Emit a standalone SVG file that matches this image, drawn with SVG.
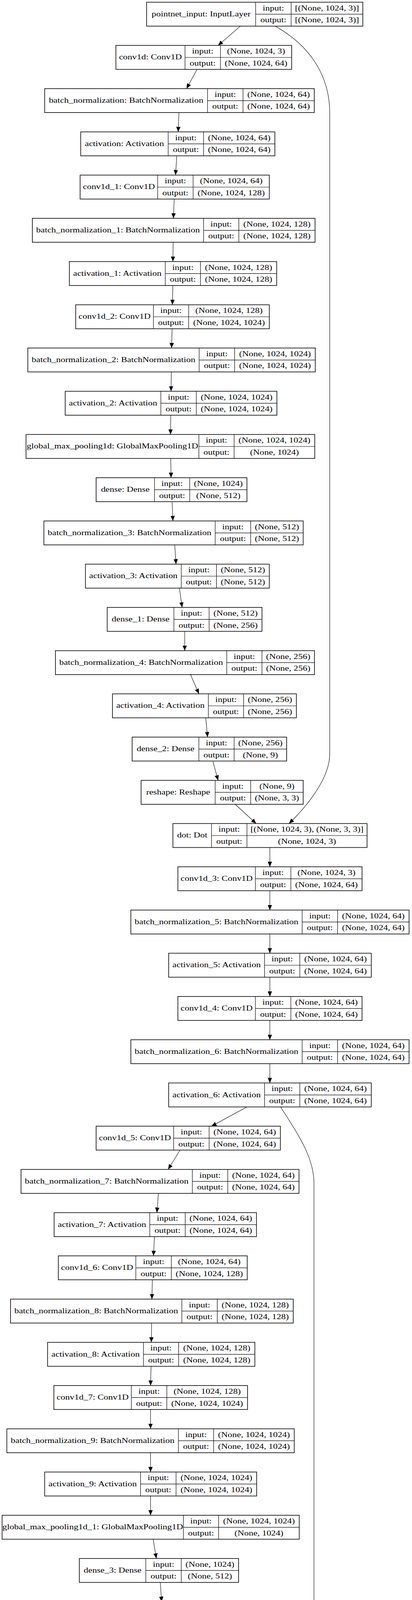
<svg xmlns="http://www.w3.org/2000/svg" width="1055" height="7045" viewBox="0 0 1055 7045">
<style>
.b{fill:#fff;stroke:#000;stroke-width:1.6}
.l{fill:none;stroke:#000;stroke-width:1.2}
.e{fill:none;stroke:#000;stroke-width:1.1}
text{font-family:"Liberation Serif","Times New Roman",serif;font-size:23.5px;text-anchor:middle;fill:#000;transform-box:fill-box;transform-origin:center;transform:scaleY(0.82)}
</style>
<defs>
<marker id="ah" viewBox="0 0 13 11" refX="13" refY="5.5" markerWidth="13" markerHeight="11" markerUnits="userSpaceOnUse" orient="auto"><path d="M0 0L13 5.5L0 11z" fill="#000"/></marker>
</defs>
<rect width="1055" height="7045" fill="#fff"/>
<g id="nodes">
<g id="pointnet_input" transform="translate(0,5.6)"><rect class="b" x="375.4" width="553.7" height="61.3"/><path class="l" d="M654.6 0V61.3M745.5 0V61.3M654.6 30.7H929.1"/><text x="515" y="37.5">pointnet_input: InputLayer</text><text x="700.1" y="22.3">input:</text><text x="700.1" y="52.9">output:</text><text x="837.3" y="22.3">[(None, 1024, 3)]</text><text x="837.3" y="52.9">[(None, 1024, 3)]</text></g>
<g id="conv1d" transform="translate(0,116.3)"><rect class="b" x="296.7" width="450.1" height="61.3"/><path class="l" d="M473.7 0V61.3M564.5 0V61.3M473.7 30.7H746.8"/><text x="385.2" y="37.5">conv1d: Conv1D</text><text x="519.1" y="22.3">input:</text><text x="519.1" y="52.9">output:</text><text x="655.7" y="22.3">(None, 1024, 3)</text><text x="655.7" y="52.9">(None, 1024, 64)</text></g>
<g id="batch_normalization" transform="translate(0,226.9)"><rect class="b" x="114.4" width="690.3" height="61.3"/><path class="l" d="M531.5 0V61.3M622.3 0V61.3M531.5 30.7H804.7"/><text x="323" y="37.5">batch_normalization: BatchNormalization</text><text x="576.9" y="22.3">input:</text><text x="576.9" y="52.9">output:</text><text x="713.5" y="22.3">(None, 1024, 64)</text><text x="713.5" y="52.9">(None, 1024, 64)</text></g>
<g id="activation" transform="translate(0,337.6)"><rect class="b" x="206.6" width="497.2" height="61.3"/><path class="l" d="M430.6 0V61.3M521.4 0V61.3M430.6 30.7H703.8"/><text x="318.6" y="37.5">activation: Activation</text><text x="476" y="22.3">input:</text><text x="476" y="52.9">output:</text><text x="612.6" y="22.3">(None, 1024, 64)</text><text x="612.6" y="52.9">(None, 1024, 64)</text></g>
<g id="conv1d_1" transform="translate(0,448.3)"><rect class="b" x="205.2" width="484.4" height="61.3"/><path class="l" d="M403.7 0V61.3M494.5 0V61.3M403.7 30.7H689.6"/><text x="304.5" y="37.5">conv1d_1: Conv1D</text><text x="449.1" y="22.3">input:</text><text x="449.1" y="52.9">output:</text><text x="592.1" y="22.3">(None, 1024, 64)</text><text x="592.1" y="52.9">(None, 1024, 128)</text></g>
<g id="batch_normalization_1" transform="translate(0,558.9)"><rect class="b" x="82.8" width="723.9" height="61.3"/><path class="l" d="M521.4 0V61.3M611.6 0V61.3M521.4 30.7H806.7"/><text x="302.1" y="37.5">batch_normalization_1: BatchNormalization</text><text x="566.5" y="22.3">input:</text><text x="566.5" y="52.9">output:</text><text x="709.2" y="22.3">(None, 1024, 128)</text><text x="709.2" y="52.9">(None, 1024, 128)</text></g>
<g id="activation_1" transform="translate(0,669.6)"><rect class="b" x="177.6" width="530.9" height="61.3"/><path class="l" d="M423.2 0V61.3M513.3 0V61.3M423.2 30.7H708.5"/><text x="300.4" y="37.5">activation_1: Activation</text><text x="468.3" y="22.3">input:</text><text x="468.3" y="52.9">output:</text><text x="610.9" y="22.3">(None, 1024, 128)</text><text x="610.9" y="52.9">(None, 1024, 128)</text></g>
<g id="conv1d_2" transform="translate(0,780.3)"><rect class="b" x="193.8" width="495.8" height="61.3"/><path class="l" d="M392.9 0V61.3M483.1 0V61.3M392.9 30.7H689.6"/><text x="293.4" y="37.5">conv1d_2: Conv1D</text><text x="438" y="22.3">input:</text><text x="438" y="52.9">output:</text><text x="586.4" y="22.3">(None, 1024, 128)</text><text x="586.4" y="52.9">(None, 1024, 1024)</text></g>
<g id="batch_normalization_2" transform="translate(0,890.9)"><rect class="b" x="71.3" width="736.1" height="61.3"/><path class="l" d="M510 0V61.3M600.8 0V61.3M510 30.7H807.4"/><text x="290.7" y="37.5">batch_normalization_2: BatchNormalization</text><text x="555.4" y="22.3">input:</text><text x="555.4" y="52.9">output:</text><text x="704.1" y="22.3">(None, 1024, 1024)</text><text x="704.1" y="52.9">(None, 1024, 1024)</text></g>
<g id="activation_2" transform="translate(0,1001.6)"><rect class="b" x="166.9" width="542.2" height="61.3"/><path class="l" d="M411.8 0V61.3M502.6 0V61.3M411.8 30.7H709.1"/><text x="289.4" y="37.5">activation_2: Activation</text><text x="457.2" y="22.3">input:</text><text x="457.2" y="52.9">output:</text><text x="605.9" y="22.3">(None, 1024, 1024)</text><text x="605.9" y="52.9">(None, 1024, 1024)</text></g>
<g id="global_max_pooling1d" transform="translate(0,1112.3)"><rect class="b" x="66.6" width="739.4" height="61.3"/><path class="l" d="M509.3 0V61.3M599.5 0V61.3M509.3 30.7H806"/><text x="288" y="37.5">global_max_pooling1d: GlobalMaxPooling1D</text><text x="554.4" y="22.3">input:</text><text x="554.4" y="52.9">output:</text><text x="702.8" y="22.3">(None, 1024, 1024)</text><text x="702.8" y="52.9">(None, 1024)</text></g>
<g id="dense" transform="translate(0,1223)"><rect class="b" x="246.2" width="386.2" height="61.3"/><path class="l" d="M395.6 0V61.3M485.8 0V61.3M395.6 30.7H632.4"/><text x="320.9" y="37.5">dense: Dense</text><text x="440.7" y="22.3">input:</text><text x="440.7" y="52.9">output:</text><text x="559.1" y="22.3">(None, 1024)</text><text x="559.1" y="52.9">(None, 512)</text></g>
<g id="batch_normalization_3" transform="translate(0,1333.6)"><rect class="b" x="112.4" width="664" height="61.3"/><path class="l" d="M551 0V61.3M641.9 0V61.3M551 30.7H776.4"/><text x="331.7" y="37.5">batch_normalization_3: BatchNormalization</text><text x="596.5" y="22.3">input:</text><text x="596.5" y="52.9">output:</text><text x="709.2" y="22.3">(None, 512)</text><text x="709.2" y="52.9">(None, 512)</text></g>
<g id="activation_3" transform="translate(0,1444.3)"><rect class="b" x="218.7" width="470.9" height="61.3"/><path class="l" d="M464.2 0V61.3M554.4 0V61.3M464.2 30.7H689.6"/><text x="341.5" y="37.5">activation_3: Activation</text><text x="509.3" y="22.3">input:</text><text x="509.3" y="52.9">output:</text><text x="622" y="22.3">(None, 512)</text><text x="622" y="52.9">(None, 512)</text></g>
<g id="dense_1" transform="translate(0,1555)"><rect class="b" x="274.5" width="396.3" height="61.3"/><path class="l" d="M445.4 0V61.3M535.5 0V61.3M445.4 30.7H670.8"/><text x="360" y="37.5">dense_1: Dense</text><text x="490.5" y="22.3">input:</text><text x="490.5" y="52.9">output:</text><text x="603.2" y="22.3">(None, 512)</text><text x="603.2" y="52.9">(None, 256)</text></g>
<g id="batch_normalization_4" transform="translate(0,1665.7)"><rect class="b" x="142" width="663.3" height="61.3"/><path class="l" d="M580.6 0V61.3M670.8 0V61.3M580.6 30.7H805.3"/><text x="361.3" y="37.5">batch_normalization_4: BatchNormalization</text><text x="625.7" y="22.3">input:</text><text x="625.7" y="52.9">output:</text><text x="738.1" y="22.3">(None, 256)</text><text x="738.1" y="52.9">(None, 256)</text></g>
<g id="activation_4" transform="translate(0,1776.3)"><rect class="b" x="288" width="470.9" height="61.3"/><path class="l" d="M533.5 0V61.3M623.7 0V61.3M533.5 30.7H758.9"/><text x="410.8" y="37.5">activation_4: Activation</text><text x="578.6" y="22.3">input:</text><text x="578.6" y="52.9">output:</text><text x="691.3" y="22.3">(None, 256)</text><text x="691.3" y="52.9">(None, 256)</text></g>
<g id="dense_2" transform="translate(0,1887)"><rect class="b" x="338.4" width="395.6" height="61.3"/><path class="l" d="M509.3 0V61.3M599.5 0V61.3M509.3 30.7H734"/><text x="423.9" y="37.5">dense_2: Dense</text><text x="554.4" y="22.3">input:</text><text x="554.4" y="52.9">output:</text><text x="666.8" y="22.3">(None, 256)</text><text x="666.8" y="52.9">(None, 9)</text></g>
<g id="reshape" transform="translate(0,1997.7)"><rect class="b" x="361.3" width="415.1" height="61.3"/><path class="l" d="M551 0V61.3M641.9 0V61.3M551 30.7H776.4"/><text x="456.2" y="37.5">reshape: Reshape</text><text x="596.5" y="22.3">input:</text><text x="596.5" y="52.9">output:</text><text x="709.2" y="22.3">(None, 9)</text><text x="709.2" y="52.9">(None, 3, 3)</text></g>
<g id="dot" transform="translate(0,2108.3)"><rect class="b" x="442.7" width="497.2" height="61.3"/><path class="l" d="M541.6 0V61.3M632.4 0V61.3M541.6 30.7H939.9"/><text x="492.2" y="37.5">dot: Dot</text><text x="587" y="22.3">input:</text><text x="587" y="52.9">output:</text><text x="786.2" y="22.3">[(None, 1024, 3), (None, 3, 3)]</text><text x="786.2" y="52.9">(None, 1024, 3)</text></g>
<g id="conv1d_3" transform="translate(0,2219)"><rect class="b" x="455.5" width="471.6" height="61.3"/><path class="l" d="M654 0V61.3M744.8 0V61.3M654 30.7H927.1"/><text x="554.8" y="37.5">conv1d_3: Conv1D</text><text x="699.4" y="22.3">input:</text><text x="699.4" y="52.9">output:</text><text x="836" y="22.3">(None, 1024, 3)</text><text x="836" y="52.9">(None, 1024, 64)</text></g>
<g id="batch_normalization_5" transform="translate(0,2329.7)"><rect class="b" x="335.1" width="712.4" height="61.3"/><path class="l" d="M773.7 0V61.3M864.5 0V61.3M773.7 30.7H1047.5"/><text x="554.4" y="37.5">batch_normalization_5: BatchNormalization</text><text x="819.1" y="22.3">input:</text><text x="819.1" y="52.9">output:</text><text x="956" y="22.3">(None, 1024, 64)</text><text x="956" y="52.9">(None, 1024, 64)</text></g>
<g id="activation_5" transform="translate(0,2440.3)"><rect class="b" x="431.9" width="518.8" height="61.3"/><path class="l" d="M677.5 0V61.3M767.7 0V61.3M677.5 30.7H950.7"/><text x="554.7" y="37.5">activation_5: Activation</text><text x="722.6" y="22.3">input:</text><text x="722.6" y="52.9">output:</text><text x="859.2" y="22.3">(None, 1024, 64)</text><text x="859.2" y="52.9">(None, 1024, 64)</text></g>
<g id="conv1d_4" transform="translate(0,2551)"><rect class="b" x="455.5" width="471.6" height="61.3"/><path class="l" d="M654 0V61.3M744.8 0V61.3M654 30.7H927.1"/><text x="554.8" y="37.5">conv1d_4: Conv1D</text><text x="699.4" y="22.3">input:</text><text x="699.4" y="52.9">output:</text><text x="836" y="22.3">(None, 1024, 64)</text><text x="836" y="52.9">(None, 1024, 64)</text></g>
<g id="batch_normalization_6" transform="translate(0,2661.7)"><rect class="b" x="335.1" width="712.4" height="61.3"/><path class="l" d="M773.7 0V61.3M864.5 0V61.3M773.7 30.7H1047.5"/><text x="554.4" y="37.5">batch_normalization_6: BatchNormalization</text><text x="819.1" y="22.3">input:</text><text x="819.1" y="52.9">output:</text><text x="956" y="22.3">(None, 1024, 64)</text><text x="956" y="52.9">(None, 1024, 64)</text></g>
<g id="activation_6" transform="translate(0,2772.4)"><rect class="b" x="431.9" width="518.8" height="61.3"/><path class="l" d="M677.5 0V61.3M767.7 0V61.3M677.5 30.7H950.7"/><text x="554.7" y="37.5">activation_6: Activation</text><text x="722.6" y="22.3">input:</text><text x="722.6" y="52.9">output:</text><text x="859.2" y="22.3">(None, 1024, 64)</text><text x="859.2" y="52.9">(None, 1024, 64)</text></g>
<g id="conv1d_5" transform="translate(0,2883)"><rect class="b" x="246.2" width="471.7" height="61.3"/><path class="l" d="M444.7 0V61.3M535.5 0V61.3M444.7 30.7H717.9"/><text x="345.5" y="37.5">conv1d_5: Conv1D</text><text x="490.1" y="22.3">input:</text><text x="490.1" y="52.9">output:</text><text x="626.7" y="22.3">(None, 1024, 64)</text><text x="626.7" y="52.9">(None, 1024, 64)</text></g>
<g id="batch_normalization_7" transform="translate(0,2993.7)"><rect class="b" x="53.8" width="711.8" height="61.3"/><path class="l" d="M492.5 0V61.3M583.3 0V61.3M492.5 30.7H765.6"/><text x="273.2" y="37.5">batch_normalization_7: BatchNormalization</text><text x="537.9" y="22.3">input:</text><text x="537.9" y="52.9">output:</text><text x="674.5" y="22.3">(None, 1024, 64)</text><text x="674.5" y="52.9">(None, 1024, 64)</text></g>
<g id="activation_7" transform="translate(0,3104.4)"><rect class="b" x="138.6" width="518.1" height="61.3"/><path class="l" d="M383.5 0V61.3M474.3 0V61.3M383.5 30.7H656.7"/><text x="261.1" y="37.5">activation_7: Activation</text><text x="428.9" y="22.3">input:</text><text x="428.9" y="52.9">output:</text><text x="565.5" y="22.3">(None, 1024, 64)</text><text x="565.5" y="52.9">(None, 1024, 64)</text></g>
<g id="conv1d_6" transform="translate(0,3215)"><rect class="b" x="149.4" width="483.7" height="61.3"/><path class="l" d="M347.8 0V61.3M438.7 0V61.3M347.8 30.7H633.1"/><text x="248.6" y="37.5">conv1d_6: Conv1D</text><text x="393.3" y="22.3">input:</text><text x="393.3" y="52.9">output:</text><text x="535.9" y="22.3">(None, 1024, 64)</text><text x="535.9" y="52.9">(None, 1024, 128)</text></g>
<g id="batch_normalization_8" transform="translate(0,3325.7)"><rect class="b" x="26.9" width="723.9" height="61.3"/><path class="l" d="M465.6 0V61.3M556.4 0V61.3M465.6 30.7H750.8"/><text x="246.3" y="37.5">batch_normalization_8: BatchNormalization</text><text x="511" y="22.3">input:</text><text x="511" y="52.9">output:</text><text x="653.6" y="22.3">(None, 1024, 128)</text><text x="653.6" y="52.9">(None, 1024, 128)</text></g>
<g id="activation_8" transform="translate(0,3436.4)"><rect class="b" x="121.8" width="530.8" height="61.3"/><path class="l" d="M367.3 0V61.3M457.5 0V61.3M367.3 30.7H652.6"/><text x="244.6" y="37.5">activation_8: Activation</text><text x="412.4" y="22.3">input:</text><text x="412.4" y="52.9">output:</text><text x="555.1" y="22.3">(None, 1024, 128)</text><text x="555.1" y="52.9">(None, 1024, 128)</text></g>
<g id="conv1d_7" transform="translate(0,3547)"><rect class="b" x="137.9" width="495.9" height="61.3"/><path class="l" d="M336.4 0V61.3M427.2 0V61.3M336.4 30.7H633.8"/><text x="237.2" y="37.5">conv1d_7: Conv1D</text><text x="381.8" y="22.3">input:</text><text x="381.8" y="52.9">output:</text><text x="530.5" y="22.3">(None, 1024, 128)</text><text x="530.5" y="52.9">(None, 1024, 1024)</text></g>
<g id="batch_normalization_9" transform="translate(0,3657.7)"><rect class="b" x="17.5" width="736" height="61.3"/><path class="l" d="M456.8 0V61.3M547 0V61.3M456.8 30.7H753.5"/><text x="237.2" y="37.5">batch_normalization_9: BatchNormalization</text><text x="501.9" y="22.3">input:</text><text x="501.9" y="52.9">output:</text><text x="650.3" y="22.3">(None, 1024, 1024)</text><text x="650.3" y="52.9">(None, 1024, 1024)</text></g>
<g id="activation_9" transform="translate(0,3768.4)"><rect class="b" x="114.4" width="542.9" height="61.3"/><path class="l" d="M359.9 0V61.3M450.8 0V61.3M359.9 30.7H657.3"/><text x="237.2" y="37.5">activation_9: Activation</text><text x="405.4" y="22.3">input:</text><text x="405.4" y="52.9">output:</text><text x="554.1" y="22.3">(None, 1024, 1024)</text><text x="554.1" y="52.9">(None, 1024, 1024)</text></g>
<g id="global_max_pooling1d_1" transform="translate(0,3879.1)"><rect class="b" x="5.4" width="760.9" height="61.3"/><path class="l" d="M469.6 0V61.3M559.8 0V61.3M469.6 30.7H766.3"/><text x="237.5" y="37.5">global_max_pooling1d_1: GlobalMaxPooling1D</text><text x="514.7" y="22.3">input:</text><text x="514.7" y="52.9">output:</text><text x="663.1" y="22.3">(None, 1024, 1024)</text><text x="663.1" y="52.9">(None, 1024)</text></g>
<g id="dense_3" transform="translate(0,3989.7)"><rect class="b" x="203.2" width="407.7" height="61.3"/><path class="l" d="M373.4 0V61.3M464.2 0V61.3M373.4 30.7H610.9"/><text x="288.3" y="37.5">dense_3: Dense</text><text x="418.8" y="22.3">input:</text><text x="418.8" y="52.9">output:</text><text x="537.6" y="22.3">(None, 1024)</text><text x="537.6" y="52.9">(None, 512)</text></g>
<g id="batch_normalization_10" transform="translate(0,4100.4)"><rect class="b" x="80.1" width="675.5" height="61.3"/><path class="l" d="M530.8 0V61.3M621 0V61.3M530.8 30.7H755.6"/><text x="305.5" y="37.5">batch_normalization_10: BatchNormalization</text><text x="575.9" y="22.3">input:</text><text x="575.9" y="52.9">output:</text><text x="688.3" y="22.3">(None, 512)</text><text x="688.3" y="52.9">(None, 512)</text></g>
<g id="activation_10" transform="translate(0,4211.1)"><rect class="b" x="181.7" width="483" height="61.3"/><path class="l" d="M439.3 0V61.3M529.5 0V61.3M439.3 30.7H664.7"/><text x="310.5" y="37.5">activation_10: Activation</text><text x="484.4" y="22.3">input:</text><text x="484.4" y="52.9">output:</text><text x="597.1" y="22.3">(None, 512)</text><text x="597.1" y="52.9">(None, 512)</text></g>
<g id="dense_4" transform="translate(0,4321.7)"><rect class="b" x="228.1" width="395.6" height="61.3"/><path class="l" d="M399 0V61.3M489.1 0V61.3M399 30.7H623.7"/><text x="313.6" y="37.5">dense_4: Dense</text><text x="444.1" y="22.3">input:</text><text x="444.1" y="52.9">output:</text><text x="556.4" y="22.3">(None, 512)</text><text x="556.4" y="52.9">(None, 256)</text></g>
<g id="batch_normalization_11" transform="translate(0,4432.4)"><rect class="b" x="89.5" width="675.5" height="61.3"/><path class="l" d="M539.6 0V61.3M630.4 0V61.3M539.6 30.7H765"/><text x="314.6" y="37.5">batch_normalization_11: BatchNormalization</text><text x="585" y="22.3">input:</text><text x="585" y="52.9">output:</text><text x="697.7" y="22.3">(None, 256)</text><text x="697.7" y="52.9">(None, 256)</text></g>
<g id="activation_11" transform="translate(0,4543.1)"><rect class="b" x="236.8" width="482.4" height="61.3"/><path class="l" d="M494.5 0V61.3M584.7 0V61.3M494.5 30.7H719.2"/><text x="365.7" y="37.5">activation_11: Activation</text><text x="539.6" y="22.3">input:</text><text x="539.6" y="52.9">output:</text><text x="652" y="22.3">(None, 256)</text><text x="652" y="52.9">(None, 256)</text></g>
<g id="dense_5" transform="translate(0,4653.8)"><rect class="b" x="325" width="407" height="61.3"/><path class="l" d="M495.2 0V61.3M586 0V61.3M495.2 30.7H732"/><text x="410.1" y="37.5">dense_5: Dense</text><text x="540.6" y="22.3">input:</text><text x="540.6" y="52.9">output:</text><text x="659" y="22.3">(None, 256)</text><text x="659" y="52.9">(None, 4096)</text></g>
<g id="reshape_1" transform="translate(0,4764.4)"><rect class="b" x="303.4" width="460.9" height="61.3"/><path class="l" d="M515.4 0V61.3M606.2 0V61.3M515.4 30.7H764.3"/><text x="409.4" y="37.5">reshape_1: Reshape</text><text x="560.8" y="22.3">input:</text><text x="560.8" y="52.9">output:</text><text x="685.3" y="22.3">(None, 4096)</text><text x="685.3" y="52.9">(None, 64, 64)</text></g>
<g id="pointnet_local_features" transform="translate(0,4875.1)"><rect class="b" x="305.5" width="723.9" height="61.3"/><path class="l" d="M594.8 0V61.3M685.6 0V61.3M594.8 30.7H1029.4"/><text x="450.2" y="37.5">pointnet_local_features: Dot</text><text x="640.2" y="22.3">input:</text><text x="640.2" y="52.9">output:</text><text x="857.5" y="22.3">[(None, 1024, 64), (None, 64, 64)]</text><text x="857.5" y="52.9">(None, 1024, 64)</text></g>
<g id="conv1d_8" transform="translate(0,4985.8)"><rect class="b" x="431.3" width="471.6" height="61.3"/><path class="l" d="M629.7 0V61.3M720.6 0V61.3M629.7 30.7H902.9"/><text x="530.5" y="37.5">conv1d_8: Conv1D</text><text x="675.2" y="22.3">input:</text><text x="675.2" y="52.9">output:</text><text x="811.8" y="22.3">(None, 1024, 64)</text><text x="811.8" y="52.9">(None, 1024, 64)</text></g>
<g id="batch_normalization_12" transform="translate(0,5096.4)"><rect class="b" x="305.5" width="723.9" height="61.3"/><path class="l" d="M755.6 0V61.3M846.4 0V61.3M755.6 30.7H1029.4"/><text x="530.6" y="37.5">batch_normalization_12: BatchNormalization</text><text x="801" y="22.3">input:</text><text x="801" y="52.9">output:</text><text x="937.9" y="22.3">(None, 1024, 64)</text><text x="937.9" y="52.9">(None, 1024, 64)</text></g>
<g id="activation_12" transform="translate(0,5207.1)"><rect class="b" x="401.7" width="530.8" height="61.3"/><path class="l" d="M659.3 0V61.3M749.5 0V61.3M659.3 30.7H932.5"/><text x="530.5" y="37.5">activation_12: Activation</text><text x="704.4" y="22.3">input:</text><text x="704.4" y="52.9">output:</text><text x="841" y="22.3">(None, 1024, 64)</text><text x="841" y="52.9">(None, 1024, 64)</text></g>
<g id="conv1d_9" transform="translate(0,5317.8)"><rect class="b" x="425.2" width="483.8" height="61.3"/><path class="l" d="M623.7 0V61.3M714.5 0V61.3M623.7 30.7H909"/><text x="524.5" y="37.5">conv1d_9: Conv1D</text><text x="669.1" y="22.3">input:</text><text x="669.1" y="52.9">output:</text><text x="811.8" y="22.3">(None, 1024, 64)</text><text x="811.8" y="52.9">(None, 1024, 128)</text></g>
<g id="batch_normalization_13" transform="translate(0,5428.4)"><rect class="b" x="299.4" width="736" height="61.3"/><path class="l" d="M749.5 0V61.3M840.3 0V61.3M749.5 30.7H1035.4"/><text x="524.5" y="37.5">batch_normalization_13: BatchNormalization</text><text x="794.9" y="22.3">input:</text><text x="794.9" y="52.9">output:</text><text x="937.9" y="22.3">(None, 1024, 128)</text><text x="937.9" y="52.9">(None, 1024, 128)</text></g>
<g id="activation_13" transform="translate(0,5539.1)"><rect class="b" x="395.6" width="542.9" height="61.3"/><path class="l" d="M653.3 0V61.3M744.1 0V61.3M653.3 30.7H938.5"/><text x="524.5" y="37.5">activation_13: Activation</text><text x="698.7" y="22.3">input:</text><text x="698.7" y="52.9">output:</text><text x="841.3" y="22.3">(None, 1024, 128)</text><text x="841.3" y="52.9">(None, 1024, 128)</text></g>
<g id="conv1d_10" transform="translate(0,5649.8)"><rect class="b" x="413.1" width="508" height="61.3"/><path class="l" d="M623.7 0V61.3M714.5 0V61.3M623.7 30.7H921.1"/><text x="518.4" y="37.5">conv1d_10: Conv1D</text><text x="669.1" y="22.3">input:</text><text x="669.1" y="52.9">output:</text><text x="817.8" y="22.3">(None, 1024, 128)</text><text x="817.8" y="52.9">(None, 1024, 1024)</text></g>
<g id="batch_normalization_14" transform="translate(0,5760.5)"><rect class="b" x="293.3" width="748.2" height="61.3"/><path class="l" d="M743.4 0V61.3M834.3 0V61.3M743.4 30.7H1041.5"/><text x="518.4" y="37.5">batch_normalization_14: BatchNormalization</text><text x="788.9" y="22.3">input:</text><text x="788.9" y="52.9">output:</text><text x="937.9" y="22.3">(None, 1024, 1024)</text><text x="937.9" y="52.9">(None, 1024, 1024)</text></g>
<g id="activation_14" transform="translate(0,5871.1)"><rect class="b" x="390.2" width="554.4" height="61.3"/><path class="l" d="M647.2 0V61.3M738.1 0V61.3M647.2 30.7H944.6"/><text x="518.7" y="37.5">activation_14: Activation</text><text x="692.7" y="22.3">input:</text><text x="692.7" y="52.9">output:</text><text x="841.4" y="22.3">(None, 1024, 1024)</text><text x="841.4" y="52.9">(None, 1024, 1024)</text></g>
<g id="pointnet_global_features" transform="translate(0,5981.8)"><rect class="b" x="284.6" width="765.6" height="61.3"/><path class="l" d="M752.9 0V61.3M843 0V61.3M752.9 30.7H1050.2"/><text x="518.8" y="37.5">pointnet_global_features: GlobalMaxPooling1D</text><text x="798" y="22.3">input:</text><text x="798" y="52.9">output:</text><text x="946.6" y="22.3">(None, 1024, 1024)</text><text x="946.6" y="52.9">(None, 1024)</text></g>
<g id="dense_6" transform="translate(0,6092.5)"><rect class="b" x="463.6" width="407.7" height="61.3"/><path class="l" d="M633.8 0V61.3M724.6 0V61.3M633.8 30.7H871.3"/><text x="548.7" y="37.5">dense_6: Dense</text><text x="679.2" y="22.3">input:</text><text x="679.2" y="52.9">output:</text><text x="798" y="22.3">(None, 1024)</text><text x="798" y="52.9">(None, 512)</text></g>
<g id="batch_normalization_15" transform="translate(0,6203.1)"><rect class="b" x="329" width="676.2" height="61.3"/><path class="l" d="M779.8 0V61.3M870.6 0V61.3M779.8 30.7H1005.2"/><text x="554.4" y="37.5">batch_normalization_15: BatchNormalization</text><text x="825.2" y="22.3">input:</text><text x="825.2" y="52.9">output:</text><text x="937.9" y="22.3">(None, 512)</text><text x="937.9" y="52.9">(None, 512)</text></g>
<g id="activation_15" transform="translate(0,6313.8)"><rect class="b" x="425.9" width="482.4" height="61.3"/><path class="l" d="M683.6 0V61.3M774.4 0V61.3M683.6 30.7H908.3"/><text x="554.8" y="37.5">activation_15: Activation</text><text x="729" y="22.3">input:</text><text x="729" y="52.9">output:</text><text x="841.4" y="22.3">(None, 512)</text><text x="841.4" y="52.9">(None, 512)</text></g>
<g id="dropout" transform="translate(0,6424.5)"><rect class="b" x="461.5" width="411.8" height="61.3"/><path class="l" d="M647.9 0V61.3M738.7 0V61.3M647.9 30.7H873.3"/><text x="554.7" y="37.5">dropout: Dropout</text><text x="693.3" y="22.3">input:</text><text x="693.3" y="52.9">output:</text><text x="806" y="22.3">(None, 512)</text><text x="806" y="52.9">(None, 512)</text></g>
<g id="dense_7" transform="translate(0,6535.1)"><rect class="b" x="469.6" width="395.6" height="61.3"/><path class="l" d="M639.8 0V61.3M730.7 0V61.3M639.8 30.7H865.2"/><text x="554.7" y="37.5">dense_7: Dense</text><text x="685.3" y="22.3">input:</text><text x="685.3" y="52.9">output:</text><text x="798" y="22.3">(None, 512)</text><text x="798" y="52.9">(None, 256)</text></g>
<g id="batch_normalization_16" transform="translate(0,6645.8)"><rect class="b" x="329" width="676.2" height="61.3"/><path class="l" d="M779.8 0V61.3M870.6 0V61.3M779.8 30.7H1005.2"/><text x="554.4" y="37.5">batch_normalization_16: BatchNormalization</text><text x="825.2" y="22.3">input:</text><text x="825.2" y="52.9">output:</text><text x="937.9" y="22.3">(None, 256)</text><text x="937.9" y="52.9">(None, 256)</text></g>
<g id="activation_16" transform="translate(0,6756.5)"><rect class="b" x="425.9" width="482.4" height="61.3"/><path class="l" d="M683.6 0V61.3M774.4 0V61.3M683.6 30.7H908.3"/><text x="554.8" y="37.5">activation_16: Activation</text><text x="729" y="22.3">input:</text><text x="729" y="52.9">output:</text><text x="841.4" y="22.3">(None, 256)</text><text x="841.4" y="52.9">(None, 256)</text></g>
<g id="dropout_1" transform="translate(0,6867.2)"><rect class="b" x="450.8" width="432.6" height="61.3"/><path class="l" d="M658.7 0V61.3M749.5 0V61.3M658.7 30.7H883.4"/><text x="554.8" y="37.5">dropout_1: Dropout</text><text x="704.1" y="22.3">input:</text><text x="704.1" y="52.9">output:</text><text x="816.5" y="22.3">(None, 256)</text><text x="816.5" y="52.9">(None, 256)</text></g>
<g id="dense_8" transform="translate(0,6977.8)"><rect class="b" x="469.6" width="395.6" height="61.3"/><path class="l" d="M639.8 0V61.3M730.7 0V61.3M639.8 30.7H865.2"/><text x="554.7" y="37.5">dense_8: Dense</text><text x="685.3" y="22.3">input:</text><text x="685.3" y="52.9">output:</text><text x="798" y="22.3">(None, 256)</text><text x="798" y="52.9">(None, 40)</text></g>
</g>
<g id="connectors" marker-end="url(#ah)">
<path class="e" marker-end="url(#ah)" d="M615.6 66.9L558.4 116.3"/>
<path class="e" marker-end="url(#ah)" d="M705.1 66.9C790 115 844.4 190 844.4 290L844.4 1930C844.4 1990 790 2060 740.1 2108.3"/>
<path class="e" marker-end="url(#ah)" d="M504.6 177.6L477.7 226.9"/>
<path class="e" marker-end="url(#ah)" d="M458.2 288.2L456.2 337.6"/>
<path class="e" marker-end="url(#ah)" d="M452.8 398.9L449.4 448.3"/>
<path class="e" marker-end="url(#ah)" d="M446.1 509.6L444 558.9"/>
<path class="e" marker-end="url(#ah)" d="M443.4 620.2L442.7 669.6"/>
<path class="e" marker-end="url(#ah)" d="M442.7 730.9L441.4 780.3"/>
<path class="e" marker-end="url(#ah)" d="M440.7 841.6L439.3 890.9"/>
<path class="e" marker-end="url(#ah)" d="M438.7 952.2L438 1001.6"/>
<path class="e" marker-end="url(#ah)" d="M437.3 1062.9L436.6 1112.3"/>
<path class="e" marker-end="url(#ah)" d="M437.3 1173.6L438 1223"/>
<path class="e" marker-end="url(#ah)" d="M440.7 1284.3L442.7 1333.6"/>
<path class="e" marker-end="url(#ah)" d="M447.4 1394.9L450.8 1444.3"/>
<path class="e" marker-end="url(#ah)" d="M459.5 1505.6L466.3 1555"/>
<path class="e" marker-end="url(#ah)" d="M473 1616.3L473 1665.7"/>
<path class="e" marker-end="url(#ah)" d="M487.8 1727L509.3 1776.3"/>
<path class="e" marker-end="url(#ah)" d="M526.8 1837.6L531.5 1887"/>
<path class="e" marker-end="url(#ah)" d="M545 1948.3L558.4 1997.7"/>
<path class="e" marker-end="url(#ah)" d="M602.2 2059L656 2108.3"/>
<path class="e" marker-end="url(#ah)" d="M691 2169.6L691 2219"/>
<path class="e" marker-end="url(#ah)" d="M691 2280.3L691 2329.7"/>
<path class="e" marker-end="url(#ah)" d="M691 2391L691 2440.3"/>
<path class="e" marker-end="url(#ah)" d="M691 2501.6L691 2551"/>
<path class="e" marker-end="url(#ah)" d="M691 2612.3L691 2661.7"/>
<path class="e" marker-end="url(#ah)" d="M691 2723L691 2772.4"/>
<path class="e" marker-end="url(#ah)" d="M632.4 2833.7L541.6 2883"/>
<path class="e" marker-end="url(#ah)" d="M718.6 2833.7C760 2900 804 2960 804 3030L804 4740C804 4800 765 4840 726.6 4875.1"/>
<path class="e" marker-end="url(#ah)" d="M460.9 2944.3L430.6 2993.7"/>
<path class="e" marker-end="url(#ah)" d="M405.7 3055L401.7 3104.4"/>
<path class="e" marker-end="url(#ah)" d="M395.6 3165.7L392.9 3215"/>
<path class="e" marker-end="url(#ah)" d="M390.2 3276.3L388.9 3325.7"/>
<path class="e" marker-end="url(#ah)" d="M388.2 3387L387.5 3436.4"/>
<path class="e" marker-end="url(#ah)" d="M386.9 3497.7L385.5 3547"/>
<path class="e" marker-end="url(#ah)" d="M385.5 3608.3L385.5 3657.7"/>
<path class="e" marker-end="url(#ah)" d="M385.5 3719L385.5 3768.4"/>
<path class="e" marker-end="url(#ah)" d="M385.5 3829.7L385.5 3879.1"/>
<path class="e" marker-end="url(#ah)" d="M392.2 3940.4L400.3 3989.7"/>
<path class="e" marker-end="url(#ah)" d="M410.4 4051L413.8 4100.4"/>
<path class="e" marker-end="url(#ah)" d="M419.8 4161.7L421.8 4211.1"/>
<path class="e" marker-end="url(#ah)" d="M423.9 4272.4L425.2 4321.7"/>
<path class="e" marker-end="url(#ah)" d="M425.9 4383L426.6 4432.4"/>
<path class="e" marker-end="url(#ah)" d="M441.4 4493.7L464.2 4543.1"/>
<path class="e" marker-end="url(#ah)" d="M492.5 4604.4L514 4653.8"/>
<path class="e" marker-end="url(#ah)" d="M529.5 4715.1L531.5 4764.4"/>
<path class="e" marker-end="url(#ah)" d="M570.5 4825.7L629.1 4875.1"/>
<path class="e" marker-end="url(#ah)" d="M666.7 4936.4L666.7 4985.8"/>
<path class="e" marker-end="url(#ah)" d="M666.7 5047.1L666.7 5096.4"/>
<path class="e" marker-end="url(#ah)" d="M666.7 5157.7L666.7 5207.1"/>
<path class="e" marker-end="url(#ah)" d="M666.7 5268.4L666.7 5317.8"/>
<path class="e" marker-end="url(#ah)" d="M666.7 5379.1L666.7 5428.4"/>
<path class="e" marker-end="url(#ah)" d="M666.7 5489.7L666.7 5539.1"/>
<path class="e" marker-end="url(#ah)" d="M666.7 5600.4L666.7 5649.8"/>
<path class="e" marker-end="url(#ah)" d="M666.7 5711.1L666.7 5760.5"/>
<path class="e" marker-end="url(#ah)" d="M666.7 5821.8L666.7 5871.1"/>
<path class="e" marker-end="url(#ah)" d="M666.7 5932.4L666.7 5981.8"/>
<path class="e" marker-end="url(#ah)" d="M666.7 6043.1L666.7 6092.5"/>
<path class="e" marker-end="url(#ah)" d="M666.7 6153.8L666.7 6203.1"/>
<path class="e" marker-end="url(#ah)" d="M666.7 6264.4L666.7 6313.8"/>
<path class="e" marker-end="url(#ah)" d="M666.7 6375.1L666.7 6424.5"/>
<path class="e" marker-end="url(#ah)" d="M666.7 6485.8L666.7 6535.1"/>
<path class="e" marker-end="url(#ah)" d="M666.7 6596.4L666.7 6645.8"/>
<path class="e" marker-end="url(#ah)" d="M666.7 6707.1L666.7 6756.5"/>
<path class="e" marker-end="url(#ah)" d="M666.7 6817.8L666.7 6867.2"/>
<path class="e" marker-end="url(#ah)" d="M666.7 6928.5L666.7 6977.8"/>
</g>
</svg>
